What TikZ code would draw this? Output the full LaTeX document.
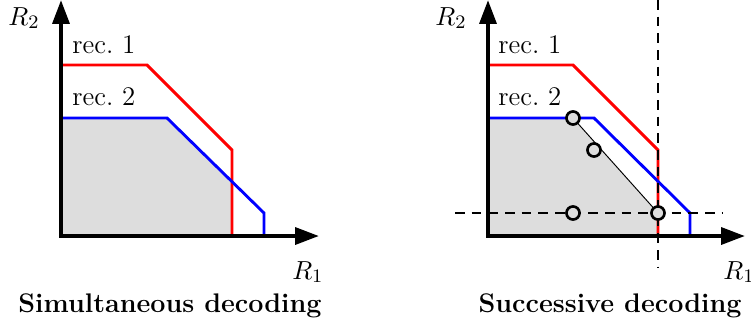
\documentclass[tikz,border=0pt]{standalone}
\usetikzlibrary{arrows.meta}
\begin{document}
\begin{tikzpicture}[x=0.42pt,y=-0.42pt,
  axis/.style={line width=1.7pt, line join=miter,
    {Triangle[length=10pt,width=7pt]}-{Triangle[length=10pt,width=7pt]}},
  reg/.style={line width=1.2pt},
  regfill/.style={fill=gray!27},
  pt/.style={circle, draw=black, line width=1.1pt, fill=gray!27, minimum size=5.5pt, inner sep=0pt},
  guide/.style={line width=0.45pt, dash pattern=on 4pt off 3pt},
  lab/.style={inner sep=0pt, font=\fontsize{11.3}{13.5}\selectfont}]
\useasboundingbox (0,0) rectangle (751,321);
% ---------- left panel ----------
\coordinate (Lo) at (61,236);
\coordinate (Ly) at (61,0);
\coordinate (Lx) at (319,236);
\coordinate (Lr1) at (61,65);   \coordinate (Lr2) at (147,65);
\coordinate (Lr3) at (232,150); \coordinate (Lr4) at (232,236);
\coordinate (Lb1) at (61,118);  \coordinate (Lb2) at (167,118);
\coordinate (Lb3) at (264,213); \coordinate (Lb4) at (264,236);
\coordinate (Lc) at (232,181.7);
\fill[regfill] (Lo) -- (Lb1) -- (Lb2) -- (Lc) -- (Lr4) -- cycle;
\draw[reg, red] (Lr1) -- (Lr2) -- (Lr3) -- (Lr4);
\draw[reg, blue] (Lb1) -- (Lb2) -- (Lb3) -- (Lb4);
\draw[axis] (Ly) -- (Lo) -- (Lx);
\node[lab, anchor=base west] (Lt1) at (72,53) {rec.\ 1};
\node[lab, anchor=base west] (Lt2) at (72,105) {rec.\ 2};
\node[lab, anchor=base west] (LR2) at (8,25) {$R_2$};
\node[lab, anchor=base east] (LR1) at (324,279) {$R_1$};
\node[lab, anchor=base] (Lcap) at (170,312) {\textbf{Simultaneous decoding}};
% ---------- right panel ----------
\coordinate (Ro) at (488,236);
\coordinate (Ry) at (488,0);
\coordinate (Rx) at (745,236);
\coordinate (Rr1) at (488,65);  \coordinate (Rr2) at (573,65);
\coordinate (Rr3) at (658,150); \coordinate (Rr4) at (658,236);
\coordinate (Rb1) at (488,118); \coordinate (Rb2) at (594,118);
\coordinate (Rb3) at (690,213); \coordinate (Rb4) at (690,236);
\coordinate (Rvt) at (658,0);   \coordinate (Rvb) at (658,268);
\coordinate (Rhl) at (455,213); \coordinate (Rhr) at (722,213);
\coordinate (Pa) at (573,118);
\coordinate (Pd) at (658,213);
\fill[regfill] (Ro) -- (Rb1) -- (Pa) -- (Pd) -- (Rr4) -- cycle;
\draw[reg, red] (Rr1) -- (Rr2) -- (Rr3) -- (Rr4);
\draw[reg, blue] (Rb1) -- (Rb2) -- (Rb3) -- (Rb4);
\draw[line width=0.4pt] (Pa) -- (Pd);
\draw[guide] (Rvt) -- (Rvb);
\draw[guide] (Rhl) -- (Rhr);
\draw[axis] (Ry) -- (Ro) -- (Rx);
\node[pt] (Ca) at (Pa) {};
\node[pt] (Cb) at (594,150) {};
\node[pt] (Cc) at (573,213) {};
\node[pt] (Cd) at (Pd) {};
\node[lab, anchor=base west] (Rt1) at (498,53) {rec.\ 1};
\node[lab, anchor=base west] (Rt2) at (498,105) {rec.\ 2};
\node[lab, anchor=base west] (RR2) at (435,25) {$R_2$};
\node[lab, anchor=base west] (RR1) at (723,279) {$R_1$};
\node[lab, anchor=base] (Rcap) at (610,312) {\textbf{Successive decoding}};
\end{tikzpicture}
\end{document}
